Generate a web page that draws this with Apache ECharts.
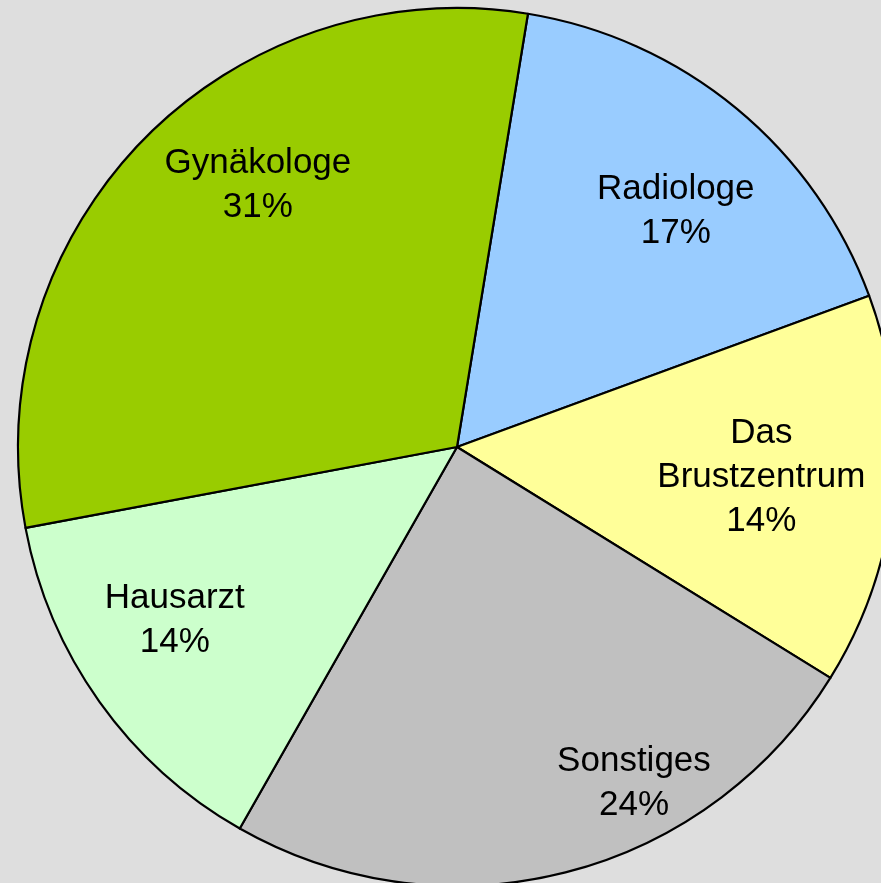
<!DOCTYPE html>
<html>
<head>
<meta charset="utf-8">
<script src="https://cdn.jsdelivr.net/npm/echarts@6/dist/echarts.min.js"></script>
<style>
  html, body { margin: 0; padding: 0; background: #dedede; }
  #chart { width: 881px; height: 883px; }
</style>
</head>
<body>
<div id="chart"></div>
<script>
// Kategorien und Anteile (in %, aus dem Bild geschätzt)
const categories = ["Radiologe", "Das Brustzentrum", "Sonstiges", "Hausarzt", "Gynäkologe"];
const shares = [16.8, 14.4, 24.4, 13.8, 30.5];
const colors = ["#99ccff", "#ffff99", "#c0c0c0", "#ccffcc", "#99cc00"];

// Verschiebung der Beschriftung gegenüber der Standardposition "inside"
const labelShift = [[77, -64], [83, 8], [122, 121], [-101, 44], [-40, -106]];

let myChart = echarts.init(document.getElementById("chart"));
myChart.setOption({
  backgroundColor: "#dedede",
  animation: false,
  series: [
    {
      type: "pie",
      center: [457, 447],
      radius: [0, 439],
      startAngle: 80.7,
      clockwise: true,
      silent: true,
      avoidLabelOverlap: false,
      itemStyle: {
        borderColor: "#000",
        borderWidth: 2.2,
      },
      label: {
        show: true,
        position: "inside",
        color: "#000",
        fontFamily: "Liberation Sans, Arial, sans-serif",
        fontSize: 35,
        lineHeight: 44,
        align: "center",
        formatter: function (p) {
          return p.name.replace(" ", "\n") + "\n" + Math.round(p.percent) + "%";
        },
      },
      labelLine: { show: false },
      data: categories.map(function (name, i) {
        return {
          name: name,
          value: shares[i],
          itemStyle: { color: colors[i] },
          label: { offset: labelShift[i] },
        };
      }),
    },
  ],
});
</script>
</body>
</html>
